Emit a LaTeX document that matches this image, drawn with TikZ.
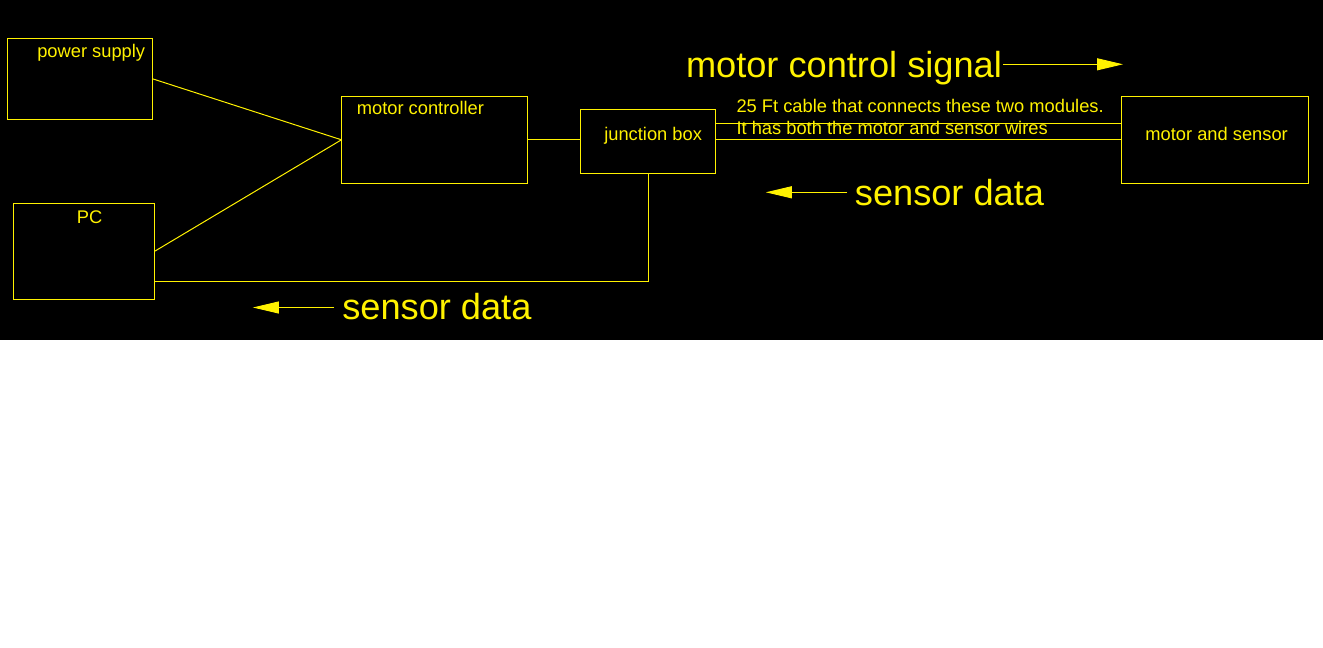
\documentclass[tikz,border=0pt]{standalone}
\usepackage{fontspec}
\setmainfont{Liberation Sans}
\usetikzlibrary{arrows.meta}
\begin{document}
\begin{tikzpicture}[x=1pt,y=-1pt,line width=1pt,
  box/.style={draw=yellow,inner sep=0pt,outer sep=0pt},
  small/.style={text=yellow,inner sep=0pt,anchor=base west,font=\fontsize{18.3}{20}\selectfont},
  big/.style={text=yellow,inner sep=0pt,anchor=base west,font=\fontsize{36.2}{40}\selectfont},
  wire/.style={draw=yellow,line width=1pt},
  sig/.style={draw=yellow,line width=1pt,-{Triangle[length=26pt,width=12pt]},fill=yellow}]
\useasboundingbox (0,0) rectangle (1323,648);
\fill[white] (0,0) rectangle (1323,648);
\fill[black] (0,0) rectangle (1323,340);
% boxes
\node[box,minimum width=145.4pt,minimum height=81pt] (ps) at (79.8,78.8) {};
\node[box,minimum width=141.4pt,minimum height=96pt] (pc) at (83.9,251.3) {};
\node[box,minimum width=186.1pt,minimum height=87pt] (mc) at (434.5,139.8) {};
\node[box,minimum width=134.8pt,minimum height=64.4pt] (jb) at (648.3,141.5) {};
\node[box,minimum width=186.8pt,minimum height=87pt] (mas) at (1215,139.8) {};
% labels
\node[small] (tps) at (36.8,57.3) {power supply};
\node[small] (tpc) at (76.4,223.7) {PC};
\node[small] (tmc) at (356.4,114.3) {motor controller};
\node[small] (tjb) at (603.8,140.5) {junction box};
\node[small] (tmas) at (1144.9,140) {motor and sensor};
\node[small] (tc1) at (736,112.7) {25 Ft cable that connects these two modules.};
\node[small] (tc2) at (736,134) {It has both the motor and sensor wires};
\node[big] (tmcs) at (685.5,77.3) {motor control signal};
\node[big] (tsd1) at (854.4,205) {sensor data};
\node[big] (tsd2) at (341.8,319) {sensor data};
% connectors
\draw[wire] (ps.east) -- (mc.west);
\draw[wire] (pc.east) -- (mc.west);
\draw[wire] (mc.east) -- (mc.east -| jb.west);
\coordinate (c1) at (0,123.3);
\coordinate (c2) at (0,139.3);
\coordinate (c3) at (0,281.7);
\draw[wire] (jb.east |- c1) -- (mas.west |- c1);
\draw[wire] (jb.east |- c2) -- (mas.west |- c2);
\draw[wire] (jb.south) -- (jb.south |- c3) -- (pc.east |- c3);
% signal arrows
\coordinate (a1s) at (1003,64.3);
\coordinate (a1e) at (1123,64.3);
\coordinate (a2s) at (847,192.3);
\coordinate (a2e) at (765.8,192.3);
\coordinate (a3s) at (334,307.5);
\coordinate (a3e) at (252.9,307.5);
\draw[sig] (a1s) -- (a1e);
\draw[sig] (a2s) -- (a2e);
\draw[sig] (a3s) -- (a3e);
\end{tikzpicture}
\end{document}
